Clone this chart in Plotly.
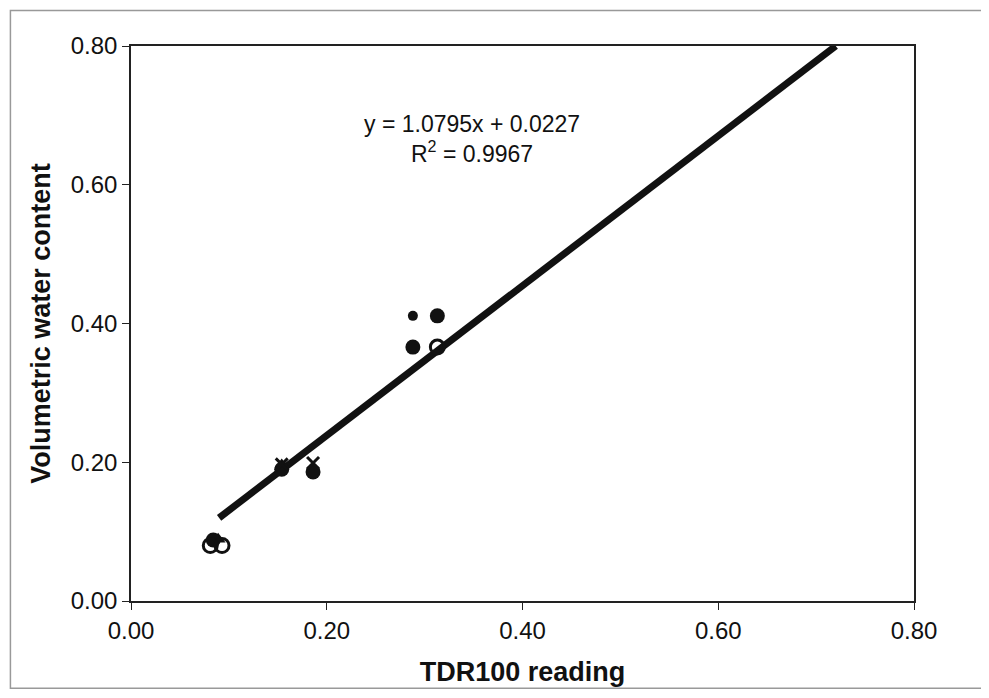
import plotly.graph_objects as go

# Data
filled_x = [0.084, 0.154, 0.186, 0.288, 0.313]
filled_y = [0.088, 0.190, 0.186, 0.366, 0.411]
small_x = [0.288]
small_y = [0.411]
open_x = [0.081, 0.093, 0.313]
open_y = [0.080, 0.080, 0.366]
cross_x = [0.186, 0.154]
cross_y = [0.199, 0.197]
tri_x = [0.089, 0.154]
tri_y = [0.089, 0.196]

slope, intercept = 1.0795, 0.0227
fit_x = [0.09, (0.80 - intercept) / slope]
fit_y = [slope * v + intercept for v in fit_x]

tick_vals = [0.0, 0.2, 0.4, 0.6, 0.8]
tick_text = ["0.00", "0.20", "0.40", "0.60", "0.80"]

FONT = "Liberation Sans, Arial"

fig = go.Figure()
fig.add_trace(go.Scatter(x=fit_x, y=fit_y, mode="lines",
                         line=dict(color="#111", width=7), showlegend=False))
fig.add_trace(go.Scatter(x=tri_x, y=tri_y, mode="markers",
                         marker=dict(symbol="triangle-up", size=13, color="#111"), showlegend=False))
fig.add_trace(go.Scatter(x=filled_x, y=filled_y, mode="markers",
                         marker=dict(symbol="circle", size=15, color="#111"), showlegend=False))
fig.add_trace(go.Scatter(x=small_x, y=small_y, mode="markers",
                         marker=dict(symbol="circle", size=10, color="#111"), showlegend=False))
fig.add_trace(go.Scatter(x=open_x, y=open_y, mode="markers",
                         marker=dict(symbol="circle-open", size=14, color="#111",
                                     line=dict(width=3)), showlegend=False))
fig.add_trace(go.Scatter(x=cross_x, y=cross_y, mode="markers",
                         marker=dict(symbol="x-thin", size=12, color="#111",
                                     line=dict(width=3, color="#111")), showlegend=False))

fig.add_annotation(x=0.348, y=0.666, xref="x", yref="y", showarrow=False,
                   text="y = 1.0795x + 0.0227<br>R<sup>2</sup> = 0.9967",
                   font=dict(family=FONT, size=23, color="#111"),
                   align="center", xanchor="center", yanchor="middle")

fig.add_shape(type="rect", xref="paper", yref="paper",
              x0=-0.154, x1=1.089, y0=-0.157, y1=1.064,
              line=dict(color="#999", width=1.5), fillcolor="rgba(0,0,0,0)")

axis_common = dict(range=[0, 0.8], tickvals=tick_vals, ticktext=tick_text,
                   showgrid=False, zeroline=False, showline=True, mirror=True,
                   linecolor="#222", linewidth=1.5, ticks="outside", ticklen=7,
                   tickcolor="#222",
                   tickfont=dict(family=FONT, size=24, color="#111"))

fig.update_layout(
    width=989, height=698,
    margin=dict(l=123, r=83, t=38, b=105),
    paper_bgcolor="white", plot_bgcolor="white",
    xaxis=dict(**axis_common,
               title=dict(text="<b>TDR100 reading</b>", standoff=20,
                          font=dict(family=FONT, size=27, color="#111"))),
    yaxis=dict(**axis_common,
               title=dict(text="<b>Volumetric water content</b>", standoff=12,
                          font=dict(family=FONT, size=27, color="#111"))),
)

fig.write_html("out.html")
